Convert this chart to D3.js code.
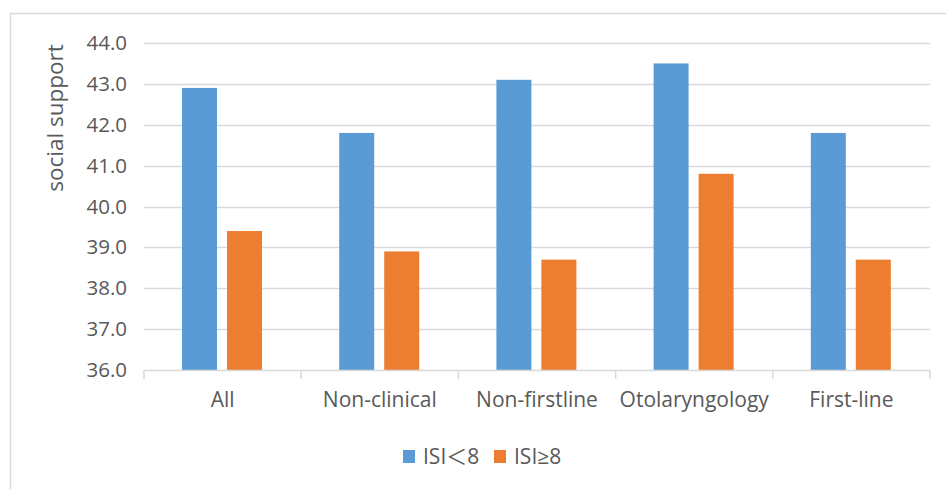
<!DOCTYPE html>
<html><head><meta charset="utf-8">
<script src="https://cdn.jsdelivr.net/npm/d3@7"></script>
<style>body{margin:0;background:#fff;}svg{display:block;}</style>
</head><body>
<svg id="c" width="946" height="489"></svg>
<script>
const categories = ["All","Non-clinical","Non-firstline","Otolaryngology","First-line"];
const seriesNames = ["ISI\uFF1C8","ISI\u22658"];
const low = [42.9, 41.8, 43.1, 43.5, 41.8];
const high = [39.4, 38.9, 38.7, 40.8, 38.7];
const yTicks = [36,37,38,39,40,41,42,43,44];
const colors = ["#5B9BD5","#ED7D31"];

(function(){
const svg = d3.select("#c");
const font = "'Open Sans','Noto Sans','Noto Sans CJK SC',sans-serif";
const textColor = "#595959";

// frame
svg.append("rect").attr("x",10.5).attr("y",13.5).attr("width",946).attr("height",489)
  .attr("fill","#fff").attr("stroke","#D9D9D9").attr("stroke-width",1.5);

const pL=144, pR=930, pT=43, pB=370;
const x = d3.scaleBand().domain(categories).range([pL,pR]);
const y = d3.scaleLinear().domain([36,44]).range([pB,pT]);

// gridlines
svg.append("g").selectAll("line").data(yTicks.slice(1)).join("line")
  .attr("x1",pL).attr("x2",pR).attr("y1",d=>Math.round(y(d))+0.5).attr("y2",d=>Math.round(y(d))+0.5)
  .attr("stroke","#D9D9D9").attr("stroke-width",1.5);

// y axis labels
const ya = svg.append("g").attr("transform",`translate(${pL},0)`)
  .call(d3.axisLeft(y).tickValues(yTicks).tickFormat(d3.format(".1f")).tickSize(0).tickPadding(17));
ya.select(".domain").remove();
ya.selectAll("text").attr("font-family",font).attr("font-size",20.5).attr("fill",textColor);

// bars
const bw = 35;
const data = [low, high];
data.forEach((vals,si)=>{
  svg.append("g").selectAll("rect").data(vals).join("rect")
    .attr("x",(d,i)=>x(categories[i]) + 38 + si*(bw+10))
    .attr("width",bw)
    .attr("y",d=>y(d))
    .attr("height",d=>y(36)-y(d))
    .attr("fill",colors[si]);
});

// x axis
const xa = svg.append("g").attr("transform",`translate(0,${pB})`)
  .call(d3.axisBottom(x).tickSize(0).tickPadding(22));
xa.select(".domain").attr("stroke","#D9D9D9").attr("stroke-width",1.5)
  .attr("d",`M${pL},0.5H${pR}`);
xa.selectAll("text").attr("font-family",font).attr("font-size",21).attr("fill",textColor);
// category separators
svg.append("g").selectAll("line").data(categories.concat(["_end"])).join("line")
  .attr("x1",(d,i)=>pL + i*x.bandwidth()).attr("x2",(d,i)=>pL + i*x.bandwidth())
  .attr("y1",pB).attr("y2",pB+9)
  .attr("stroke","#D9D9D9").attr("stroke-width",1.5);

// y label
svg.append("text").attr("transform",`translate(63,118) rotate(-90)`)
  .attr("text-anchor","middle").attr("font-family",font).attr("font-size",22.5)
  .attr("fill",textColor).text("social support");

// legend
const lg = svg.append("g");
const legX = [403, 494];
seriesNames.forEach((n,i)=>{
  lg.append("rect").attr("x",legX[i]).attr("y",450).attr("width",12).attr("height",13).attr("fill",colors[i]);
  lg.append("text").attr("x",legX[i]+20).attr("y",464).attr("font-family",font).attr("font-size",21)
    .attr("fill",textColor).text(n);
});
})();
</script>
</body></html>
